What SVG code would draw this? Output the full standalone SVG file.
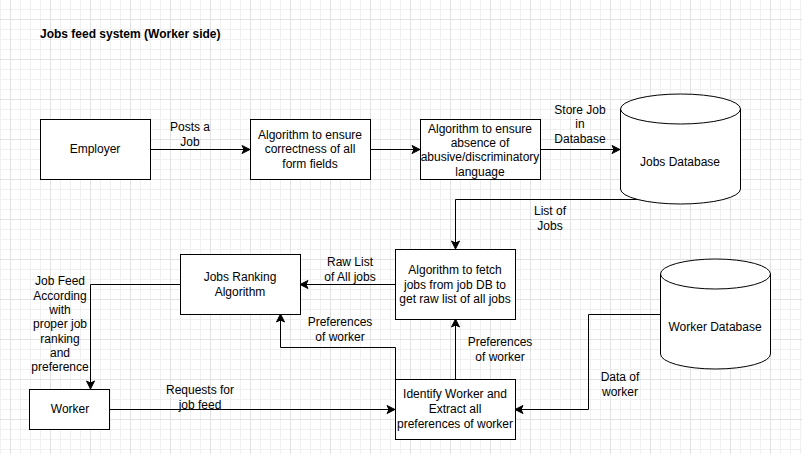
<svg xmlns="http://www.w3.org/2000/svg" width="802" height="454" viewBox="0 0 802 454">
<defs>
<pattern id="grid" x="10" y="19" width="40" height="40" patternUnits="userSpaceOnUse">
<rect x="10" y="0" width="1" height="40" fill="#f0f0f0"/>
<rect x="20" y="0" width="1" height="40" fill="#f0f0f0"/>
<rect x="30" y="0" width="1" height="40" fill="#f0f0f0"/>
<rect x="0" y="10" width="40" height="1" fill="#f0f0f0"/>
<rect x="0" y="20" width="40" height="1" fill="#f0f0f0"/>
<rect x="0" y="30" width="40" height="1" fill="#f0f0f0"/>
<rect x="0" y="0" width="1" height="40" fill="#e2e2e2"/>
<rect x="0" y="0" width="40" height="1" fill="#e2e2e2"/>
</pattern>
<marker id="arr" markerUnits="userSpaceOnUse" markerWidth="10" markerHeight="10" viewBox="0 0 10 10" refX="9" refY="5" orient="auto">
<path d="M1,1 L9,5 L1,9 L3,5 Z" fill="#000" stroke="#000" stroke-width="1" stroke-linejoin="miter"/>
</marker>
<style>
text{font-family:"Liberation Sans",Arial,sans-serif;font-size:12px;fill:#000;text-anchor:middle}
.t{font-weight:bold;text-anchor:start}
.box{fill:#fff;stroke:#000;stroke-width:1}
.edge{fill:none;stroke:#000;stroke-width:1;marker-end:url(#arr)}
.line{fill:none;stroke:#000;stroke-width:1}
</style>
</defs>
<rect width="802" height="454" fill="#fff"/>
<rect width="802" height="454" fill="url(#grid)"/>

<text class="t" x="40" y="38">Jobs feed system (Worker side)</text>

<g id="connectors">
<path class="edge" d="M150,149.5 H250"/>
<path class="edge" d="M370,149.5 H420"/>
<path class="edge" d="M540,149.5 H620"/>
<path class="edge" d="M680,199.5 H455.5 V249"/>
<path class="edge" d="M395,284.5 H300"/>
<path class="edge" d="M180,284.5 H90.5 V389"/>
<path class="edge" d="M110,409.5 H395"/>
<path class="edge" d="M660,314.5 H588.5 V409.5 H515"/>
<path class="edge" d="M455.5,379 V319"/>
<path class="edge" d="M395.5,379 V347.5 H280.5 V314"/>
<text x="190" y="131">Posts a</text>
<text x="190" y="146">Job</text>
<text x="580" y="114">Store Job</text>
<text x="580" y="128">in</text>
<text x="580" y="143">Database</text>
<text x="550" y="215">List of</text>
<text x="550" y="230">Jobs</text>
<text x="350" y="266">Raw List</text>
<text x="350" y="281">of All jobs</text>
<text x="340" y="326">Preferences</text>
<text x="340" y="341">of worker</text>
<text x="500" y="346">Preferences</text>
<text x="500" y="361">of worker</text>
<text x="60" y="285">Job Feed</text>
<text x="60" y="299.5">According</text>
<text x="60" y="314">with</text>
<text x="60" y="328">proper job</text>
<text x="60" y="342.5">ranking</text>
<text x="60" y="357">and</text>
<text x="60" y="371">preference</text>
<text x="200" y="394">Requests for</text>
<text x="200" y="409">job feed</text>
<text x="620" y="381">Data of</text>
<text x="620" y="396">worker</text>
</g>

<g id="employer">
<rect class="box" x="40.5" y="119.5" width="110" height="60"/>
<text x="95" y="153">Employer</text>
</g>
<g id="algo-form">
<rect class="box" x="250.5" y="119.5" width="120" height="60"/>
<text x="310" y="138.5">Algorithm to ensure</text>
<text x="310" y="153">correctness of all</text>
<text x="310" y="167.5">form fields</text>
</g>
<g id="algo-abuse">
<rect class="box" x="420.5" y="119.5" width="120" height="60"/>
<text x="480" y="132.5">Algorithm to ensure</text>
<text x="480" y="146.5">absence of</text>
<text x="480" y="161">abusive/discriminatory</text>
<text x="480" y="175.5">language</text>
</g>
<g id="jobs-db">
<path class="box" d="M620.5,109 A60,15 0 0 1 740.5,109 V189 A60,15 0 0 1 620.5,189 Z"/>
<path class="line" d="M620.5,109 A60,15 0 0 0 740.5,109"/>
<text x="680" y="166">Jobs Database</text>
</g>
<g id="algo-fetch">
<rect class="box" x="395.5" y="249.5" width="120" height="70"/>
<text x="455" y="274">Algorithm to fetch</text>
<text x="455" y="288.5">jobs from job DB to</text>
<text x="455" y="302.5">get raw list of all jobs</text>
</g>
<g id="ranking">
<rect class="box" x="180.5" y="254.5" width="120" height="60"/>
<text x="240" y="281">Jobs Ranking</text>
<text x="240" y="296">Algorithm</text>
</g>
<g id="worker">
<rect class="box" x="29.5" y="389.5" width="80" height="40"/>
<text x="70" y="413">Worker</text>
</g>
<g id="identify">
<rect class="box" x="395.5" y="379.5" width="120" height="60"/>
<text x="455" y="398">Identify Worker and</text>
<text x="455" y="413">Extract all</text>
<text x="455" y="427.5">preferences of worker</text>
</g>
<g id="worker-db">
<path class="box" d="M660.5,274 A55,15 0 0 1 770.5,274 V354 A55,15 0 0 1 660.5,354 Z"/>
<path class="line" d="M660.5,274 A55,15 0 0 0 770.5,274"/>
<text x="715" y="331">Worker Database</text>
</g>
</svg>
